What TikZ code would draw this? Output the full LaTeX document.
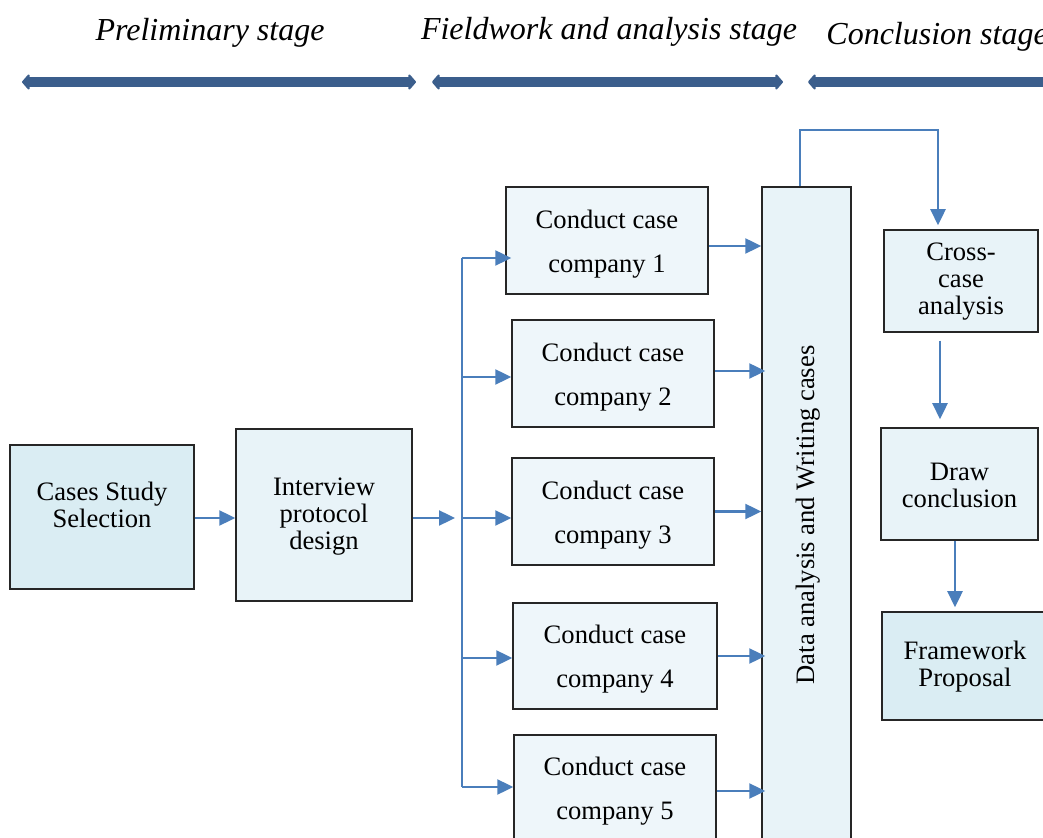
\documentclass[tikz,border=0pt]{standalone}
\usepackage{fontspec}
\setmainfont{Liberation Serif}
\usetikzlibrary{arrows.meta,calc,fit}
\definecolor{boxline}{HTML}{262626}
\definecolor{flow}{HTML}{4A7EBB}
\definecolor{band}{HTML}{3B5E8C}
\definecolor{fillA}{HTML}{DAEDF3}
\definecolor{fillB}{HTML}{E8F3F8}
\definecolor{fillC}{HTML}{EEF6FA}
\tikzset{
  box/.style={draw=boxline, line width=0.75pt, inner sep=0pt},
  txt/.style={align=center, inner sep=0pt, font=\fontsize{13.3}{13.5}\selectfont},
  casetxt/.style={txt, font=\fontsize{13.3}{22}\selectfont},
  arr/.style={draw=flow, line width=1.2pt, -{Triangle[length=8pt,width=7.5pt]}},
  flowline/.style={draw=flow, line width=1.2pt},
  stagebar/.style={draw=band, line width=5pt,
    {Triangle[round,length=4pt,width=9pt]}-{Triangle[round,length=4pt,width=9pt]}},
  stagetitle/.style={inner sep=0pt, font=\fontsize{16}{18}\selectfont\itshape},
}
\begin{document}
\begin{tikzpicture}[x=0.5pt,y=-0.5pt]
\useasboundingbox (0,0) rectangle (1043,838);
\clip (0,0) rectangle (1043,838);

% stage titles and bars
\node[stagetitle] (s1) at (210,33) {Preliminary stage};
\node[stagetitle] (s2) at (609,32) {Fieldwork and analysis stage};
\node[stagetitle, anchor=west] (s3) at (826,37) {Conclusion stage};
\coordinate (b1a) at (22,82);  \coordinate (b1b) at (416,82);
\coordinate (b2a) at (432,82); \coordinate (b2b) at (783,82);
\coordinate (b3a) at (808,82); \coordinate (b3b) at (1075,82);
\draw[stagebar] (b1a) -- (b1b);
\draw[stagebar] (b2a) -- (b2b);
\draw[stagebar] (b3a) -- (b3b);

% preliminary stage boxes
\node[box, fill=fillA, fit={(10,445) (194,589)}] (cs) {};
\node[txt] (cst) at (102,505) {Cases Study\\Selection};
\node[box, fill=fillB, fit={(236,429) (412,601)}] (ip) {};
\node[txt] (ipt) at (324,517) {Interview\\protocol\\design};

% case boxes
\node[box, fill=fillC, fit={(506,187) (708,294)}] (c1) {};
\node[box, fill=fillC, fit={(512,320) (714,427)}] (c2) {};
\node[box, fill=fillC, fit={(512,458) (714,565)}] (c3) {};
\node[box, fill=fillC, fit={(513,603) (717,709)}] (c4) {};
\node[box, fill=fillC, fit={(514,735) (716,845)}] (c5) {};
\node[casetxt] (c1t) at (607,244) {Conduct case\\company 1};
\node[casetxt] (c2t) at (613,377) {Conduct case\\company 2};
\node[casetxt] (c3t) at (613,515) {Conduct case\\company 3};
\node[casetxt] (c4t) at (615,659) {Conduct case\\company 4};
\node[casetxt] (c5t) at (615,791) {Conduct case\\company 5};

% analysis column
\node[box, fill=fillB, fit={(762,187) (851,853)}] (da) {};
\node[txt, rotate=90] (dat) at (808,515) {Data analysis and Writing cases};

% conclusion boxes
\node[box, fill=fillB, fit={(884,230) (1038,332)}] (cc) {};
\node[txt] (cct) at (961,282) {Cross-\\case\\analysis};
\node[box, fill=fillB, fit={(881,428) (1038,540)}] (dc) {};
\node[txt] (dct) at (959.5,485) {Draw\\conclusion};
\node[box, fill=fillA, fit={(882,612) (1046,720)}] (fp) {};
\node[txt] (fpt) at (965,667) {Framework\\Proposal};

% preliminary flow
\draw[arr] (cs.east |- 0,518) -- (ip.west |- 0,518);
\coordinate (split) at (455,518);
\draw[arr] (ip.east |- split) -- (split);

% distribution trunk and branches
\coordinate (t1) at (462,258);
\coordinate (t2) at (462,377);
\coordinate (t3) at (462,518);
\coordinate (t4) at (462,658);
\coordinate (t5) at (462,787);
\draw[flowline] (t1) -- (t5);
\draw[arr, shorten >=-3pt] (t1) -- (t1 -| c1.west);
\draw[arr] (t2) -- (t2 -| c2.west);
\draw[arr] (t3) -- (t3 -| c3.west);
\draw[arr] (t4) -- (t4 -| c4.west);
\draw[arr] (t5) -- (t5 -| c5.west);

% case results into analysis
\draw[arr] ($(c1.east)+(0,5.5)$) coordinate (e1) -- (e1 -| da.west);
\draw[arr, shorten >=-2pt] ($(c2.east)+(0,-2.5)$) coordinate (e2) -- (e2 -| da.west);
\draw[arr] (c3.east) -- (c3.east -| da.west);
\draw[arr, shorten >=-2pt] (c4.east) -- (c4.east -| da.west);
\draw[arr, shorten >=-2pt] ($(c5.east)+(0,1)$) coordinate (e5) -- (e5 -| da.west);

% conclusion flow
\coordinate (loop) at (938,130);
\draw[arr, shorten >=2pt] ($(da.north)+(-6.5,0)$) |- (loop) -- (loop |- cc.north);
\draw[arr, shorten >=4pt] ($(cc.south)+(-21,8)$) coordinate (q) -- (q |- dc.north);
\draw[arr, shorten >=2pt] ($(dc.south)+(-4.5,0)$) coordinate (r) -- (r |- fp.north);
\end{tikzpicture}
\end{document}
